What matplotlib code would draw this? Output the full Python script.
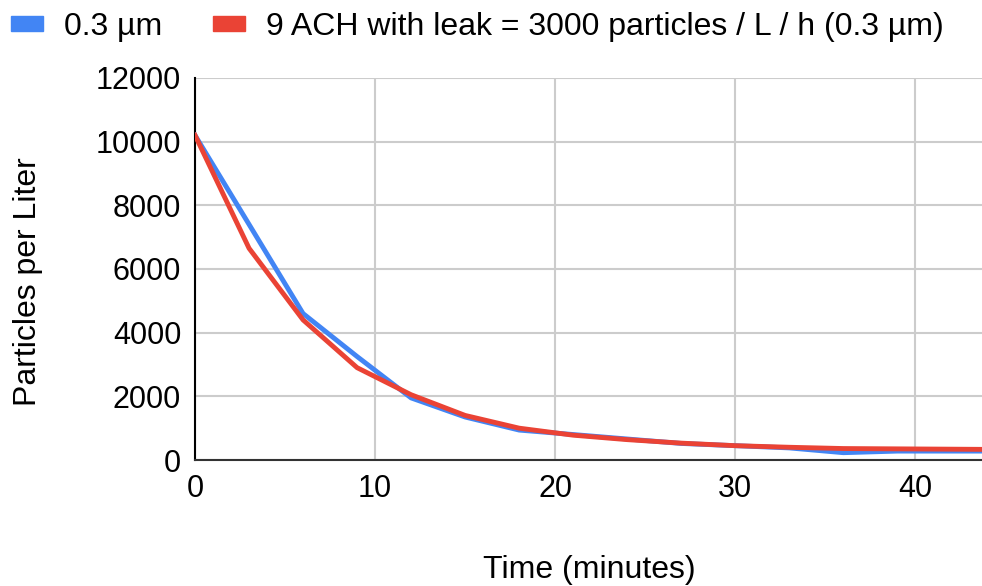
import matplotlib.pyplot as plt
from matplotlib.patches import Patch

# Time points (minutes)
minutes = [0, 3, 6, 9, 12, 15, 18, 21, 24, 27, 30, 33, 36, 39, 42, 45]

# measured 0.3 um counts
measured = [10200, 7400, 4600, 3250, 1950, 1350, 940, 800, 660, 520, 450, 380, 230, 280, 280, 280]
# model: 9 ACH with leak
model = [10200, 6650, 4400, 2900, 2050, 1400, 1000, 780, 640, 530, 450, 400, 360, 350, 340, 330]

series_names = ['0.3 µm', '9 ACH with leak = 3000 particles / L / h (0.3 µm)']
colors = ['#4285F4', '#EA4335']

plt.rcParams['font.family'] = ['Liberation Sans', 'DejaVu Sans']

fig = plt.figure(figsize=(9.82, 5.86), dpi=100)
ax = fig.add_axes([0.1986, 0.215, 0.8014, 0.652])

ax.plot(minutes, measured, color=colors[0], linewidth=3.5, zorder=3)
ax.plot(minutes, model, color=colors[1], linewidth=3.5, zorder=4)

ax.set_xlim(0, 43.7)
ax.set_ylim(0, 12000)
ax.set_xticks([0, 10, 20, 30, 40])
ax.set_yticks(range(0, 12001, 2000))
ax.grid(True, color='#cccccc', linewidth=1.5)
ax.set_axisbelow(True)

for side in ['top', 'right']:
    ax.spines[side].set_visible(False)
ax.spines['left'].set_color('black')
ax.spines['left'].set_linewidth(1.5)
ax.spines['bottom'].set_color('#333333')
ax.spines['bottom'].set_linewidth(1.5)
ax.tick_params(length=0, labelsize=22, pad=10)

fig.text(0.029, 0.52, 'Particles per Liter', fontsize=23, rotation=90,
         ha='center', va='center')
fig.text(0.6, 0.027, 'Time (minutes)', fontsize=23, ha='center', va='center')

handles = [Patch(color=c) for c in colors]
fig.legend(handles, series_names, loc='upper left', bbox_to_anchor=(-0.018, 1.029), ncol=2,
           frameon=False, fontsize=23, handlelength=1.0, handleheight=0.35,
           handletextpad=0.66, columnspacing=1.6)

fig.savefig('out.png', dpi=100)
